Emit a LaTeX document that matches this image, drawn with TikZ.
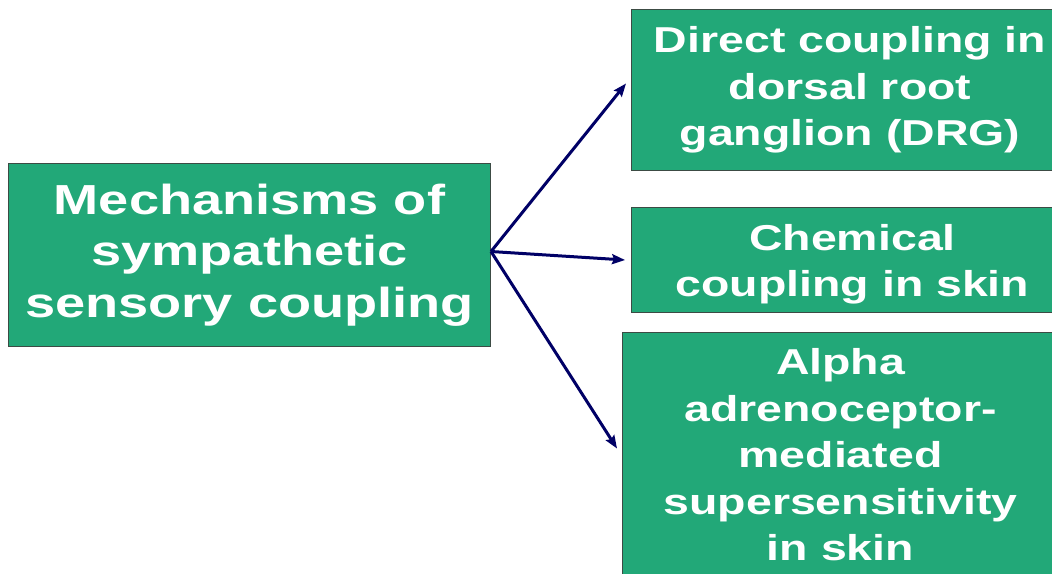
\documentclass[tikz,border=0pt]{standalone}
\usepackage{fontspec}
\setmainfont{Liberation Sans}[FakeStretch=1.29]
\usetikzlibrary{arrows.meta,calc}
\definecolor{boxgreen}{RGB}{34,168,120}
\definecolor{boxline}{RGB}{60,75,68}
\definecolor{arrownavy}{RGB}{0,0,102}
\tikzset{
  greenbox/.style={rectangle, fill=boxgreen, draw=boxline, line width=1pt,
    text=white, font=\bfseries, align=center, inner sep=0pt},
  bigtext/.style={font=\bfseries\fontsize{42}{51.5}\selectfont},
  smalltext/.style={font=\bfseries\fontsize{36}{46.5}\selectfont},
  link/.style={draw=arrownavy, line width=3pt,
    -{Stealth[length=13pt,width=10pt,inset=2pt]}},
}
\begin{document}
\begin{tikzpicture}[x=1pt,y=-1pt]
  \useasboundingbox (0,0) rectangle (1052,573);
  \begin{scope}
  \clip (0,0) rectangle (1052,573);
  \node[greenbox, bigtext, minimum width=482pt, minimum height=183pt, anchor=north west]
    (main) at (8,163) {Mechanisms of\\sympathetic\\sensory coupling};
  \node[greenbox, smalltext, minimum width=437pt, minimum height=161pt, anchor=north west]
    (drg) at (631,9) {Direct coupling in\\dorsal root\\ganglion (DRG)};
  \node[greenbox, smalltext, minimum width=442pt, minimum height=105pt, anchor=north west]
    (chem) at (631,207) {\rule{0pt}{35pt}Chemical\\coupling in skin};
  \node[greenbox, smalltext, minimum width=436pt, minimum height=245pt, anchor=north west]
    (alpha) at (622,332) {Alpha\\adrenoceptor-\\mediated\\supersensitivity\\in skin};
  \end{scope}
  \coordinate (src) at ($(main.east)+(0,-3.5)$);
  \draw[link] (src) -- ($(drg.west)+(-5,-6.5)$);
  \draw[link] (src) -- ($(chem.west)+(-6,0)$);
  \draw[link] (src) -- ($(alpha.west)+(-5,-6.5)$);
\end{tikzpicture}
\end{document}
